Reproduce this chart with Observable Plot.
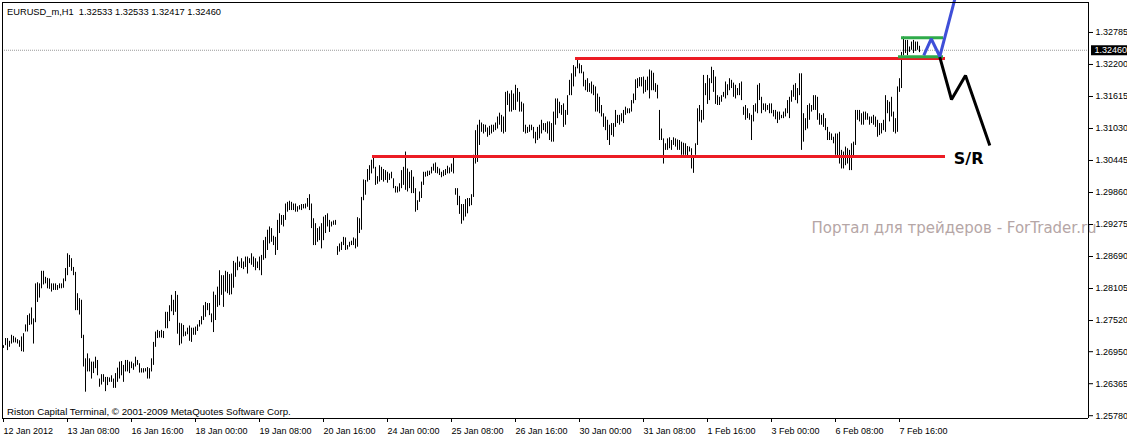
<!DOCTYPE html>
<html><head><meta charset="utf-8">
<script src="https://cdn.jsdelivr.net/npm/d3@7"></script>
<script src="https://cdn.jsdelivr.net/npm/@observablehq/plot@0.6"></script>
<style>body{margin:0;background:#fff}svg{display:block}</style>
</head><body><div id="chart"></div>
<script>
const symbolTitle = "EURUSD_m,H1\u00a0 1.32533 1.32533 1.32417 1.32460";
const copyright = "Riston Capital Terminal, © 2001-2009 MetaQuotes Software Corp.";
const watermark = "Портал для трейдеров - ForTrader.ru";
const srLabel = "S/R";
const timeLabels = ["12 Jan 2012","13 Jan 08:00","16 Jan 16:00","18 Jan 00:00","19 Jan 08:00","20 Jan 16:00","24 Jan 00:00","25 Jan 08:00","26 Jan 16:00","30 Jan 00:00","31 Jan 08:00","1 Feb 16:00","3 Feb 00:00","6 Feb 08:00","7 Feb 16:00"];
const timeTickBars = [0,32,64,96,128,160,192,224,256,288,320,352,384,416,448];
const priceTicks = [1.32785,1.32200,1.31615,1.31030,1.30445,1.29860,1.29275,1.28690,1.28105,1.27520,1.26950,1.26365,1.25780];
const currentPrice = 1.32460;

const high = [
1.2706,1.2719,1.2719,1.2714,1.2725,1.2723,1.2720,1.2717,1.2715,1.2722,
1.2728,1.2744,1.2761,1.2764,1.2775,1.2755,1.2819,1.2821,1.2819,1.2842,
1.2842,1.2831,1.2829,1.2828,1.2819,1.2819,1.2819,1.2816,1.2819,1.2819,
1.2828,1.2847,1.2874,1.2871,1.2865,1.2849,1.2840,1.2801,1.2792,1.2789,
1.2725,1.2682,1.2691,1.2682,1.2676,1.2676,1.2685,1.2679,1.2645,1.2653,
1.2653,1.2648,1.2648,1.2647,1.2651,1.2645,1.2655,1.2665,1.2676,1.2677,
1.2670,1.2679,1.2679,1.2676,1.2676,1.2673,1.2685,1.2679,1.2673,1.2664,
1.2664,1.2664,1.2666,1.2664,1.2682,1.2712,1.2731,1.2734,1.2732,1.2734,
1.2732,1.2767,1.2767,1.2779,1.2798,1.2789,1.2805,1.2798,1.2747,1.2746,
1.2743,1.2731,1.2738,1.2742,1.2738,1.2738,1.2740,1.2744,1.2752,1.2759,
1.2779,1.2785,1.2783,1.2783,1.2764,1.2804,1.2798,1.2813,1.2843,1.2834,
1.2834,1.2842,1.2840,1.2836,1.2837,1.2860,
1.2857,1.2868,1.2859,1.2865,1.2859,1.2868,1.2868,1.2865,1.2874,1.2868,
1.2865,1.2859,1.2868,1.2871,1.2898,1.2904,1.2917,1.2923,1.2920,1.2906,
1.2904,1.2935,1.2947,1.2944,1.2944,1.2965,1.2968,1.2970,1.2968,1.2965,
1.2965,1.2960,1.2962,1.2964,1.2964,1.2965,1.2975,1.2982,1.2965,1.2938,
1.2929,1.2920,1.2923,1.2929,1.2941,1.2944,1.2947,1.2935,1.2932,1.2934,
1.2935,1.2887,1.2892,1.2895,1.2904,1.2903,1.2889,1.2895,1.2897,1.2903,
1.2901,1.2940,1.2938,1.2977,1.3009,1.3008,1.3028,1.3035,1.3045,1.3049,
1.3032,1.3015,1.3035,1.3032,1.3028,1.3026,1.3023,1.3020,1.3023,1.3011,
1.2997,1.2996,1.3002,1.3026,1.3032,1.3060,1.3029,1.3023,1.3026,1.3014,
1.2993,1.2971,1.2987,1.3005,1.3023,1.3023,1.3025,1.3025,1.3032,1.3038,
1.3040,1.3032,1.3029,1.3023,1.3026,1.3028,1.3034,1.3031,1.3038,1.3051,
1.2993,1.2993,1.2979,1.2964,1.2964,1.2973,1.2975,
1.2975,1.2982,1.3054,1.3099,1.3109,1.3118,1.3113,1.3110,1.3109,1.3104,
1.3107,1.3109,1.3109,1.3113,1.3124,1.3131,1.3127,1.3124,1.3169,1.3171,
1.3166,1.3172,1.3166,1.3182,1.3176,1.3169,1.3151,1.3148,1.3109,1.3105,
1.3109,1.3109,1.3105,1.3096,1.3105,1.3109,1.3118,1.3112,1.3112,1.3115,
1.3115,1.3112,1.3133,1.3157,1.3157,1.3151,1.3145,1.3148,1.3136,1.3163,
1.3191,1.3203,1.3218,1.3215,1.3229,1.3221,1.3218,1.3206,1.3191,1.3194,
1.3185,1.3188,1.3182,1.3179,1.3166,1.3160,1.3145,1.3130,1.3124,1.3118,
1.3109,1.3112,1.3112,1.3136,1.3127,1.3127,1.3130,1.3136,1.3142,1.3139,
1.3139,1.3154,1.3166,1.3192,1.3194,1.3196,1.3196,1.3197,1.3191,1.3197,
1.3210,1.3208,1.3204,1.3185,1.3182,1.3136,1.3102,1.3084,1.3075,1.3084,
1.3086,1.3081,1.3086,1.3084,1.3082,1.3081,1.3078,1.3076,1.3075,1.3070,
1.3069,1.3066,1.3051,
1.3075,1.3139,1.3145,1.3136,1.3200,1.3185,1.3200,1.3194,1.3215,1.3209,
1.3197,1.3163,1.3160,1.3163,1.3169,1.3188,1.3183,1.3194,1.3191,1.3186,
1.3182,1.3176,1.3185,1.3188,1.3142,1.3145,1.3139,1.3130,1.3127,1.3145,
1.3148,1.3182,1.3185,1.3160,1.3148,1.3148,1.3145,1.3148,1.3148,1.3136,
1.3136,1.3133,1.3133,1.3127,1.3133,1.3139,1.3154,1.3160,1.3172,1.3182,
1.3185,1.3176,1.3203,1.3203,1.3130,1.3121,1.3145,1.3148,1.3145,1.3163,
1.3163,1.3160,1.3130,1.3127,1.3130,1.3121,1.3105,1.3096,1.3093,1.3087,
1.3093,1.3093,1.3096,1.3063,1.3060,1.3069,1.3066,1.3063,1.3075,1.3078,
1.3136,1.3136,1.3136,1.3130,1.3133,1.3133,1.3130,1.3124,1.3124,1.3127,
1.3124,1.3118,1.3112,1.3112,1.3118,1.3163,1.3154,1.3151,1.3160,1.3133,
1.3121,1.3179,1.3194,1.3242,1.3270,1.3264,1.3264,1.3252,1.3261,1.3264,
1.3261,1.3261,1.32533
];

const low = [
1.2701,1.2706,1.2697,1.2703,1.2709,1.2711,1.2711,1.2709,1.2703,1.2695,
1.2694,1.2731,1.2731,1.2743,1.2744,1.2709,1.2748,1.2785,1.2793,1.2810,
1.2817,1.2819,1.2810,1.2809,1.2804,1.2807,1.2807,1.2807,1.2810,1.2810,
1.2811,1.2823,1.2834,1.2849,1.2842,1.2834,1.2770,1.2770,1.2762,1.2719,
1.2667,1.2621,1.2658,1.2658,1.2645,1.2655,1.2664,1.2651,1.2630,1.2634,
1.2639,1.2622,1.2633,1.2639,1.2639,1.2628,1.2628,1.2639,1.2645,1.2651,
1.2639,1.2658,1.2658,1.2655,1.2664,1.2661,1.2667,1.2670,1.2656,1.2656,
1.2656,1.2658,1.2645,1.2645,1.2658,1.2670,1.2703,1.2719,1.2720,1.2720,
1.2719,1.2737,1.2737,1.2750,1.2768,1.2761,1.2767,1.2727,1.2706,1.2709,
1.2722,1.2723,1.2726,1.2714,1.2712,1.2725,1.2725,1.2732,1.2740,1.2744,
1.2752,1.2758,1.2770,1.2761,1.2748,1.2730,1.2752,1.2776,1.2779,1.2798,
1.2776,1.2804,1.2801,1.2798,1.2799,1.2811,
1.2831,1.2843,1.2849,1.2847,1.2845,1.2849,1.2837,1.2856,1.2853,1.2849,
1.2843,1.2847,1.2843,1.2834,1.2862,1.2865,1.2880,1.2892,1.2895,1.2889,
1.2871,1.2880,1.2911,1.2926,1.2923,1.2935,1.2950,1.2953,1.2953,1.2953,
1.2950,1.2950,1.2954,1.2953,1.2956,1.2956,1.2959,1.2953,1.2920,1.2889,
1.2889,1.2895,1.2898,1.2883,1.2898,1.2911,1.2923,1.2913,1.2923,1.2926,
1.2926,1.2871,1.2877,1.2880,1.2889,1.2880,1.2881,1.2886,1.2889,1.2889,
1.2883,1.2886,1.2911,1.2917,1.2971,1.2981,1.3005,1.3008,1.3020,1.3029,
1.2999,1.3001,1.3005,1.3008,1.3005,1.3008,1.3003,1.3008,1.3011,1.2993,
1.2985,1.2985,1.2987,1.2993,1.2999,1.2990,1.2987,1.2993,1.2984,1.2984,
1.2950,1.2953,1.2968,1.2975,1.2999,1.3014,1.3015,1.3017,1.3020,1.3025,
1.3021,1.3020,1.3017,1.3013,1.3015,1.3017,1.3020,1.3020,1.3023,1.3020,
1.2981,1.2962,1.2946,1.2928,1.2934,1.2941,1.2947,
1.2960,1.2962,1.2977,1.3038,1.3041,1.3072,1.3096,1.3093,1.3096,1.3087,
1.3090,1.3093,1.3096,1.3099,1.3102,1.3109,1.3096,1.3093,1.3096,1.3145,
1.3133,1.3133,1.3136,1.3136,1.3151,1.3133,1.3133,1.3096,1.3093,1.3094,
1.3096,1.3099,1.3084,1.3075,1.3081,1.3084,1.3093,1.3099,1.3096,1.3093,
1.3081,1.3078,1.3078,1.3109,1.3121,1.3130,1.3127,1.3105,1.3109,1.3127,
1.3163,1.3163,1.3179,1.3197,1.3212,1.3203,1.3203,1.3179,1.3172,1.3169,
1.3169,1.3166,1.3163,1.3133,1.3133,1.3130,1.3124,1.3105,1.3099,1.3081,
1.3072,1.3090,1.3087,1.3105,1.3112,1.3109,1.3115,1.3112,1.3127,1.3130,
1.3130,1.3133,1.3148,1.3154,1.3176,1.3179,1.3179,1.3166,1.3169,1.3172,
1.3157,1.3172,1.3172,1.3169,1.3157,1.3081,1.3081,1.3038,1.3063,1.3063,
1.3066,1.3063,1.3072,1.3069,1.3063,1.3063,1.3054,1.3054,1.3054,1.3051,
1.3060,1.3029,1.3021,
1.3054,1.3072,1.3115,1.3113,1.3118,1.3163,1.3147,1.3154,1.3185,1.3169,
1.3147,1.3145,1.3145,1.3151,1.3160,1.3157,1.3163,1.3172,1.3176,1.3160,
1.3157,1.3163,1.3163,1.3154,1.3127,1.3118,1.3121,1.3118,1.3081,1.3115,
1.3133,1.3130,1.3154,1.3130,1.3136,1.3133,1.3136,1.3130,1.3130,1.3124,
1.3119,1.3112,1.3118,1.3121,1.3121,1.3124,1.3130,1.3121,1.3151,1.3160,
1.3154,1.3148,1.3163,1.3063,1.3078,1.3099,1.3102,1.3118,1.3133,1.3136,
1.3136,1.3118,1.3109,1.3109,1.3105,1.3099,1.3081,1.3081,1.3081,1.3075,
1.3054,1.3051,1.3038,1.3029,1.3029,1.3035,1.3038,1.3026,1.3026,1.3051,
1.3072,1.3118,1.3115,1.3109,1.3109,1.3118,1.3118,1.3109,1.3112,1.3109,
1.3105,1.3087,1.3090,1.3093,1.3099,1.3096,1.3130,1.3115,1.3124,1.3096,
1.3093,1.3096,1.3169,1.3176,1.3236,1.3240,1.3236,1.3242,1.3246,1.3240,
1.3244,1.3246,1.32417
];

// hand-drawn objects, in bar index / price units
const srLevels = [{from: 286, to: 471, price: 1.3231}, {from: 184.5, to: 471, price: 1.30518}];
const rangeLevels = [{from: 449, to: 470, price: 1.3269}, {from: 447.5, to: 470, price: 1.32343}];
const bullPath = [[460.15,1.32365],[463.85,1.3267],[468.15,1.32346],[475.75,1.33407]];
const bearPath = [[468.15,1.32334],[474,1.3156],[481,1.31999],[493.15,1.30719]];
const srAnchor = {bar: 475.15, price: 1.30385};
const watermarkAnchor = {bar: 404, price: 1.29123};

const bars = high.map((h, i) => ({i, high: h, low: low[i]}));
const xDomain = [-0.5, 542.5];
const yDomain = [1.25729, 1.33333];

const chart = Plot.plot({
  width: 1127, height: 436,
  marginLeft: 2, marginRight: 39, marginTop: 2, marginBottom: 18,
  style: {background: "white", fontFamily: "Liberation Sans, Arial, sans-serif", fontSize: "9px", color: "black"},
  x: {domain: xDomain},
  y: {domain: yDomain},
  marks: [
    Plot.text([watermark], {x: () => watermarkAnchor.bar, y: () => watermarkAnchor.price, text: d => d, textAnchor: "start", lineAnchor: "bottom", fontFamily: "DejaVu Sans", fontSize: 15, fill: "#b5a6a6"}),
    Plot.ruleY([currentPrice], {stroke: "#9a9a9a", strokeDasharray: "1,1", strokeWidth: 1}),
    Plot.ruleX(bars, {x: "i", y1: "low", y2: "high", stroke: "black", strokeWidth: 1}),
    Plot.ruleY(srLevels, {y: "price", x1: "from", x2: "to", stroke: "#ec1c24", strokeWidth: 3}),
    Plot.ruleY(rangeLevels, {y: "price", x1: "from", x2: "to", stroke: "#2fab4a", strokeWidth: 3}),
    Plot.line(bullPath, {x: d => d[0], y: d => d[1], stroke: "#3f4fd8", strokeWidth: 3, strokeLinejoin: "miter", strokeLinecap: "butt"}),
    Plot.line(bearPath, {x: d => d[0], y: d => d[1], stroke: "black", strokeWidth: 3, strokeLinejoin: "miter", strokeLinecap: "butt"}),
    Plot.text([srLabel], {x: () => srAnchor.bar, y: () => srAnchor.price, text: d => d, textAnchor: "start", lineAnchor: "bottom", fontFamily: "DejaVu Sans", fontWeight: "bold", fontSize: 16, fill: "black"}),
    Plot.text([symbolTitle], {frameAnchor: "top-left", text: d => d, dx: 4.5, dy: 5.4, lineAnchor: "top", textAnchor: "start", fill: "black", fontSize: 9.3}),
    Plot.text([copyright], {frameAnchor: "bottom-left", text: d => d, dx: 4.5, dy: -3.5, lineAnchor: "bottom", textAnchor: "start", fill: "black", fontSize: 9.7}),
    Plot.ruleX(xDomain, {stroke: "black"}),
    Plot.ruleY(yDomain, {stroke: "black"}),
    Plot.axisY({anchor: "right", ticks: priceTicks, tickFormat: d => d.toFixed(5), tickSize: 4, tickPadding: 3, label: null, fontSize: 9}),
    Plot.axisX({anchor: "bottom", ticks: timeTickBars, tickFormat: d => timeLabels[timeTickBars.indexOf(d)], tickSize: 4, tickPadding: 5, textAnchor: "start", label: null, fontSize: 9}),
    Plot.ruleY([currentPrice], {x1: () => 544, x2: () => 562.5, stroke: "black", strokeWidth: 10}),
    Plot.text([currentPrice], {x: () => 545.5, y: d => d, text: d => d.toFixed(5), textAnchor: "start", fill: "white", fontSize: 9})
  ]
});
document.getElementById("chart").appendChild(chart);
</script>
</body></html>
